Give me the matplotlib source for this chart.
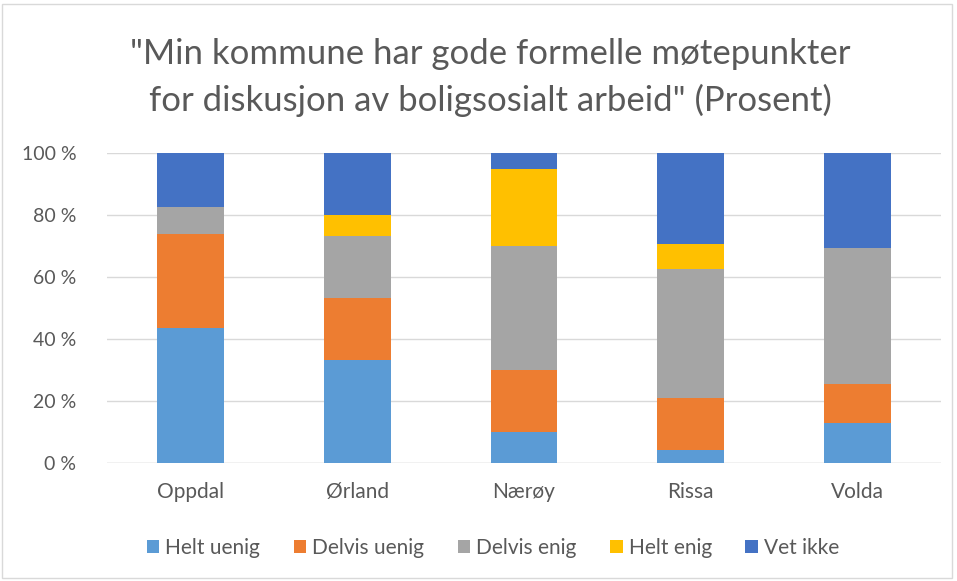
import matplotlib
matplotlib.use("Agg")
import matplotlib.pyplot as plt
from matplotlib.patches import Rectangle
import numpy as np

categories = ["Oppdal", "Ørland", "Nærøy", "Rissa", "Volda"]
series_names = ["Helt uenig", "Delvis uenig", "Delvis enig", "Helt enig", "Vet ikke"]
helt_uenig = [43.5, 33.3, 10.0, 4.2, 12.8]
delvis_uenig = [30.4, 20.0, 20.0, 16.7, 12.8]
delvis_enig = [8.7, 20.0, 40.0, 41.6, 43.6]
helt_enig = [0.0, 6.7, 25.0, 8.3, 0.0]
vet_ikke = [17.4, 20.0, 5.0, 29.2, 30.8]
colors = ["#5B9BD5", "#ED7D31", "#A5A5A5", "#FFC000", "#4472C4"]
yticks = [0, 20, 40, 60, 80, 100]

plt.rcParams['font.family'] = ['Lato', 'DejaVu Sans']

fig = plt.figure(figsize=(9.57, 5.81), dpi=100)
ax = fig.add_axes([107/957, 1-463/581, (941-107)/957, (463-153)/581])

x = np.arange(len(categories))
bottom = np.zeros(len(categories))
for name, vals, c in zip(series_names,
                         [helt_uenig, delvis_uenig, delvis_enig, helt_enig, vet_ikke],
                         colors):
    v = np.array(vals)
    ax.bar(x, v, bottom=bottom, width=0.4, color=c, label=name, zorder=3)
    bottom += v

ax.set_xlim(-0.5, len(categories) - 0.5)
ax.set_ylim(0, 100)
ax.set_yticks(yticks)
ax.set_yticklabels([f"{t} %" for t in yticks], fontsize=14, color="#595959")
ax.set_xticks(x)
ax.set_xticklabels(categories, fontsize=15, color="#595959")
ax.tick_params(axis='x', length=0, pad=14)
ax.tick_params(axis='y', length=0, pad=22)
ax.grid(axis='y', color="#D9D9D9", linewidth=1, zorder=0)
for s in ax.spines.values():
    s.set_visible(False)
ax.axhline(0, color="#D9D9D9", linewidth=1, zorder=2)

fig.text(490/957, 1-54/581, "\"Min kommune har gode formelle møtepunkter",
         ha="center", va="center", fontsize=25, color="#595959")
fig.text(490/957, 1-100/581, "for diskusjon av boligsosialt arbeid\" (Prosent)",
         ha="center", va="center", fontsize=25, color="#595959")

leg = fig.legend(loc="center", bbox_to_anchor=(493/957, 1-548/581), ncol=5,
                 frameon=False, fontsize=15, handlelength=0.6, handleheight=0.6,
                 handletextpad=0.3, columnspacing=1.6)
for t in leg.get_texts():
    t.set_color("#595959")

fig.patches.append(Rectangle((2/957, 3/581), 950/957, 574/581, transform=fig.transFigure,
                             fill=False, edgecolor="#D9D9D9", linewidth=1))

fig.savefig("out.png", dpi=100, facecolor="white")
